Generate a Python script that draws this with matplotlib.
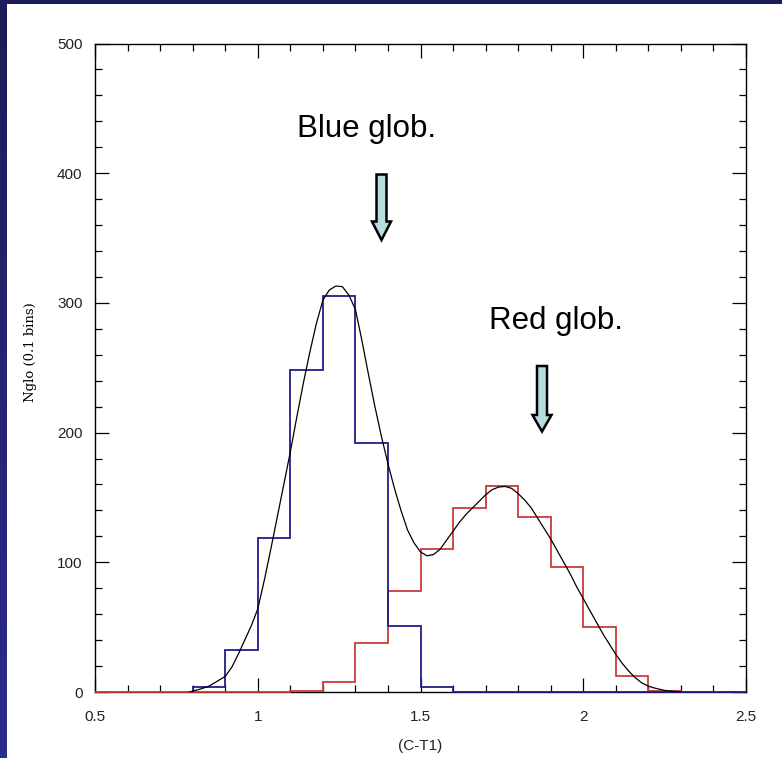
import numpy as np
import matplotlib
matplotlib.use("Agg")
import matplotlib.pyplot as plt
from matplotlib.patches import Polygon, Rectangle
from matplotlib.colors import LinearSegmentedColormap

# ---------------- data ----------------
blue_edges = [0.8, 0.9, 1.0, 1.1, 1.2, 1.3, 1.4, 1.5, 1.6, 1.7, 1.8, 1.9, 2.0, 2.1, 2.2, 2.3, 2.4, 2.5]
blue_counts = [4, 32, 119, 248, 305, 192, 51, 4, 0, 0, 0, 0, 0, 0, 0, 0, 0]

red_edges = [0.5, 0.6, 0.7, 0.8, 0.9, 1.0, 1.1, 1.2, 1.3, 1.4, 1.5, 1.6, 1.7, 1.8, 1.9, 2.0, 2.1, 2.2, 2.3]
red_counts = [0, 0, 0, 0, 0, 0, 1, 8, 38, 78, 110, 142, 159, 135, 96, 50, 12, 1]

fit_x = [0.79, 0.82, 0.85, 0.88, 0.90, 0.92, 0.94, 0.96, 0.98, 1.00, 1.02, 1.04, 1.06,
         1.08, 1.10, 1.12, 1.14, 1.16, 1.18, 1.20, 1.22, 1.24, 1.26, 1.28, 1.30, 1.32,
         1.34, 1.36, 1.38, 1.40, 1.42, 1.44, 1.46, 1.48, 1.50, 1.52, 1.54, 1.56, 1.58,
         1.60, 1.62, 1.64, 1.66, 1.68, 1.70, 1.72, 1.74, 1.76, 1.78, 1.80, 1.82, 1.84,
         1.86, 1.88, 1.90, 1.92, 1.94, 1.96, 1.98, 2.00, 2.02, 2.04, 2.06, 2.08, 2.10,
         2.12, 2.14, 2.16, 2.18, 2.20, 2.22, 2.25, 2.30]
fit_y = [0, 2, 4.5, 9, 12, 19, 29, 40, 51, 64, 86, 110, 135,
         160, 185, 212, 238, 262, 284, 302, 310, 313, 312.5, 306, 295, 271,
         245, 220, 197, 176, 157, 140, 125, 115, 108, 105, 106, 110, 117,
         124, 131, 137, 142, 147, 152, 156, 158, 158.5, 157, 153, 148, 142,
         134, 126, 118, 109, 100, 91, 81, 72, 63, 54, 45, 37, 29,
         22, 16, 11, 7, 4.5, 3, 1.2, 0]

x_ticks = [0.5, 1.0, 1.5, 2.0, 2.5]
x_ticklabels = ["0.5", "1", "1.5", "2", "2.5"]
y_ticks = [0, 100, 200, 300, 400, 500]
y_ticklabels = ["0", "100", "200", "300", "400", "500"]

annotations = ["Blue glob.", "Red glob."]

# ---------------- figure ----------------
W, H = 782, 758
fig = plt.figure(figsize=(W / 100, H / 100), dpi=100)
fig.patch.set_facecolor("white")

# dark navy border (left strip with vertical gradient, top strip)
grad = np.linspace(0, 1, 256).reshape(-1, 1)
bax = fig.add_axes([0, 0, 7 / W, 1])
bax.axis("off")
cmap = LinearSegmentedColormap.from_list("nv", ["#1c1c58", "#2b2b8e"])
bax.imshow(grad, aspect="auto", cmap=cmap, extent=[0, 1, 0, 1], origin="upper")
fig.add_artist(Rectangle((0, 1 - 4 / H), 1, 4 / H, transform=fig.transFigure,
                         facecolor="#1c1c58", edgecolor="none"))

left, right, top, bottom = 95, 746, 43.5, 692
ax = fig.add_axes([left / W, (H - bottom) / H, (right - left) / W, (bottom - top) / H])
ax.set_facecolor("white")

ax.stairs(red_counts, red_edges, color="#cc3a3a", linewidth=1.3, zorder=3, clip_on=False)
ax.stairs(blue_counts, blue_edges, color="#1f1f8a", linewidth=1.3, zorder=4, clip_on=False)
ax.plot(fit_x, fit_y, color="black", linewidth=0.9, zorder=5)

ax.set_xlim(0.5, 2.5)
ax.set_ylim(0, 500)

tickfont = "Liberation Sans"
ax.set_xticks(x_ticks)
ax.set_xticklabels(x_ticklabels, fontsize=11, family=tickfont, color="#222222")
ax.set_yticks(y_ticks)
ax.set_yticklabels(y_ticklabels, fontsize=11, family=tickfont, color="#222222")
ax.set_xticks(np.arange(0.5, 2.5001, 0.1), minor=True)
ax.set_yticks(np.arange(0, 500.1, 20), minor=True)
ax.tick_params(which="both", direction="in", top=True, right=True, width=0.9, color="black")
ax.tick_params(which="major", length=10)
ax.tick_params(which="minor", length=5)
ax.tick_params(axis="x", which="major", pad=13)
ax.tick_params(axis="y", which="major", pad=9)
for s in ax.spines.values():
    s.set_linewidth(1.0)
    s.set_color("black")

ax.set_xlabel("(C-T1)", fontsize=11, family=tickfont, color="#222222", labelpad=11)
ax.set_ylabel("Nglo (0.1 bins)", fontsize=9.5, family="DejaVu Serif", color="black")
ax.yaxis.set_label_coords((37 - left) / (right - left), (bottom - 352) / (bottom - top))

# annotations (pixel positions converted to figure fraction)
def fx(px):
    return px / W

def fy(py):
    return 1 - py / H

fig.text(fx(297), fy(137), annotations[0], fontsize=22.5, family="Liberation Sans",
         color="black", ha="left", va="baseline")
fig.text(fx(489), fy(329), annotations[1], fontsize=22.5, family="Liberation Sans",
         color="black", ha="left", va="baseline")

def arrow(cx, ytop, yhead, ytip, shaft_w=10, head_w=19):
    pts = [(cx - shaft_w / 2, ytop), (cx + shaft_w / 2, ytop), (cx + shaft_w / 2, yhead),
           (cx + head_w / 2, yhead), (cx, ytip), (cx - head_w / 2, yhead),
           (cx - shaft_w / 2, yhead)]
    pts = [(fx(x), fy(y)) for x, y in pts]
    fig.add_artist(Polygon(pts, closed=True, transform=fig.transFigure,
                           facecolor="#b5dcdf", edgecolor="black", linewidth=1.8,
                           joinstyle="miter"))

arrow(381.5, 174.5, 221.5, 240)
arrow(542, 366, 415, 431.5)

fig.savefig("out.png", dpi=100)
